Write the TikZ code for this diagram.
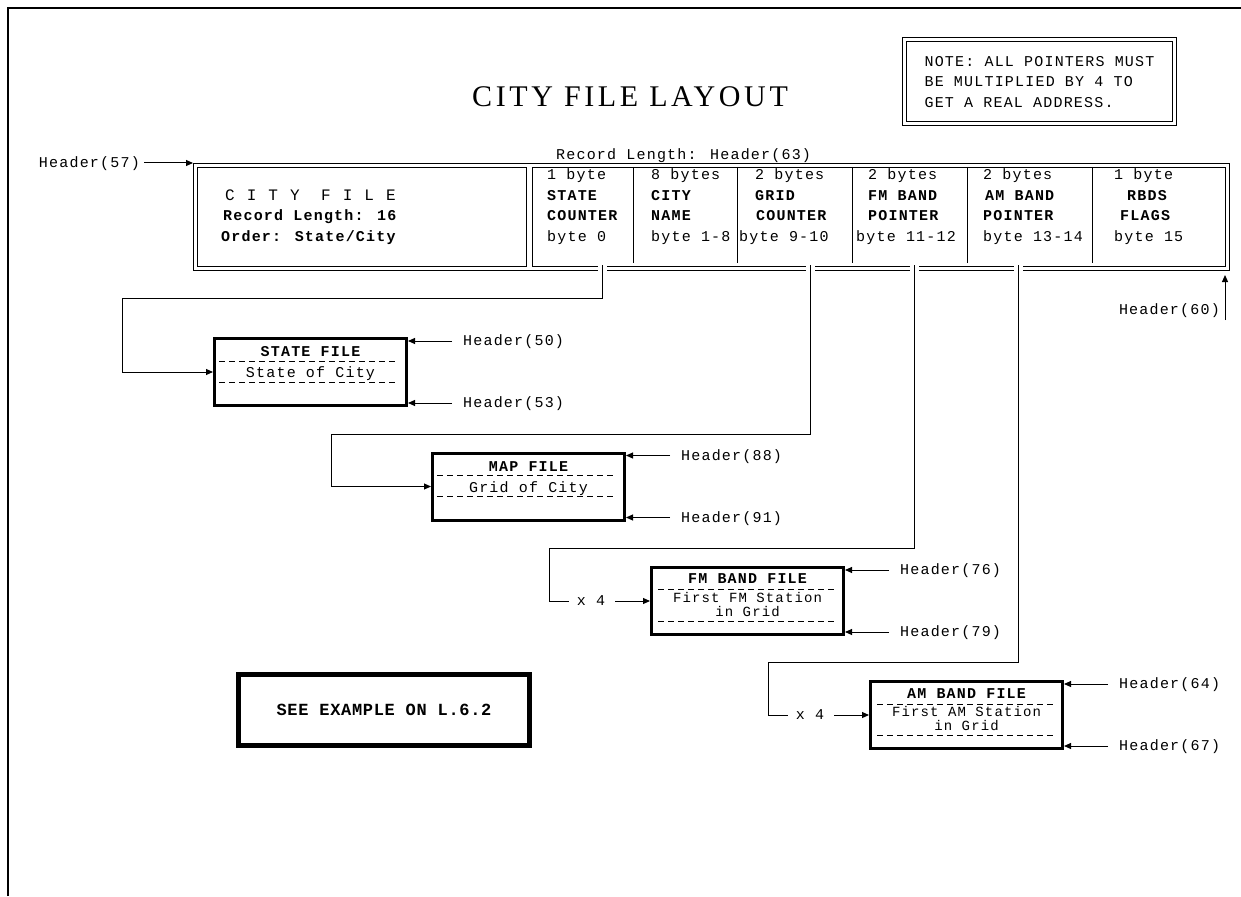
\documentclass[tikz,border=0pt]{standalone}
\usepackage{fontspec}
\usetikzlibrary{arrows.meta, positioning, calc}
\newfontfamily\pixfont[LetterSpace=8]{Liberation Mono}
\newfontfamily\widefont[LetterSpace=75]{Liberation Mono}
\newfontfamily\seefont[LetterSpace=4]{Liberation Mono}
\newfontfamily\titlefont[LetterSpace=12]{Liberation Serif}
\tikzset{
  lbl/.style={
    inner sep=0pt, text height=9.3pt, text depth=0pt,
    font=\pixfont\fontsize{15}{15}\selectfont
  },
  lblb/.style={
    lbl, font=\pixfont\bfseries\fontsize{15}{15}\selectfont
  },
  twoline/.style={
    inner sep=0pt, align=center, font=\pixfont\fontsize{14}{14}\selectfont
  },
  filebox/.style={
    draw, line width=3pt, minimum width=192pt, minimum height=67pt, inner sep=0pt
  },
  cell/.style={
    draw, line width=1pt, inner sep=0pt
  },
  tip/.style={
    -{Triangle[length=7pt, width=6pt]}, line width=1pt
  },
  link/.style={line width=1pt},
  dashline/.style={line width=1pt, dash pattern=on 6pt off 4pt},
  cutout/.style={white, line width=9pt}
}

\begin{document}
\begin{tikzpicture}[x=1pt, y=-1pt]
  \useasboundingbox (0,0) rectangle (1241,896);
  % Frame
  \draw[line width=1.8pt] (8,896) -- (8,8) -- (1241,8);

  % Title and note
  \node[font=\titlefont\fontsize{30}{30}\selectfont, inner sep=0pt] (title) at (630,97) {CITY FILE LAYOUT};
  \node[draw, double, double distance=3pt, line width=1pt, minimum width=270pt, minimum height=84pt,
        align=left, font=\pixfont\fontsize{15}{20.5}\selectfont] (note) at (1039.5,82)
    {NOTE: ALL POINTERS MUST\\BE MULTIPLIED BY 4 TO\\GET A REAL ADDRESS.};

  % Record table
  \node[cell, minimum width=1036pt, minimum height=107pt] (tbl) at (711.5,217) {};
  \node[cell, minimum width=329pt, minimum height=99pt] (city) at (362,217) {};
  \node[cell, minimum width=693pt, minimum height=99pt] (flds) at (879,217) {};
  \foreach \x in {633,737,852,967,1092}
    \draw[link] (\x,167) -- (\x,263);

  \node[lbl, anchor=west] (recl) at (556,155) {Record Length: Header(63)};
  \node[lbl, anchor=east] (h57) at (140,163) {Header(57)};
  \draw[tip] (h57.east) ++(4,0) -- (tbl.north west);

  % City cell
  \node[lbl, anchor=west, font=\widefont\fontsize{16}{16}\selectfont] (cityt) at (225,196) {CITY FILE};
  \node[lblb, anchor=west] (recl16) at (223,216) {Record Length: 16};
  \node[lblb, anchor=west] (order) at (221,237) {Order: State/City};

  % Fields
  \foreach \x/\y/\txt in {547/175/1 byte, 547/237/byte 0, 651/175/8 bytes, 651/237/byte 1-8,
      755/175/2 bytes, 739/237/byte 9-10, 868/175/2 bytes, 856/237/byte 11-12,
      983/175/2 bytes, 983/237/byte 13-14, 1114/175/1 byte, 1114/237/byte 15}
    \node[lbl, anchor=west] (t-\x-\y) at (\x,\y) {\txt};
  \foreach \x/\y/\txt in {547/196/STATE, 547/216/COUNTER, 651/196/CITY, 651/216/NAME,
      755/196/GRID, 756/216/COUNTER, 868/196/FM BAND, 868/216/POINTER,
      985/196/AM BAND, 983/216/POINTER, 1127/196/RBDS, 1120/216/FLAGS}
    \node[lblb, anchor=west] (b-\x-\y) at (\x,\y) {\txt};

  \node[lbl, anchor=east] (h60) at (1220,310) {Header(60)};
  \draw[tip] (h60.east) ++(5,10) -- ($(tbl.south east)+(-5,4)$);

  % File boxes
  \node[filebox] (sf) at (310.5,372) {};
  \node[filebox] (mf) at (528.5,486.5) {};
  \node[filebox] (fm) at (747.5,601) {};
  \node[filebox] (af) at (966.5,715) {};

  \node[lblb] (sft) at ($(sf)+(0,-20)$) {STATE FILE};
  \node[lbl] (sfc) at ($(sf)+(0,1)$) {State of City};
  \draw[dashline] ($(sf.west)+(6,-11)$) -- ($(sf.east)+(-10,-11)$);
  \draw[dashline] ($(sf.west)+(6,10)$) -- ($(sf.east)+(-10,10)$);

  \node[lblb] (mft) at ($(mf)+(0,-20)$) {MAP FILE};
  \node[lbl] (mfc) at ($(mf)+(0,1)$) {Grid of City};
  \draw[dashline] ($(mf.west)+(6,-11)$) -- ($(mf.east)+(-10,-11)$);
  \draw[dashline] ($(mf.west)+(6,10)$) -- ($(mf.east)+(-10,10)$);

  \node[lblb] (fmt) at ($(fm)+(0,-22)$) {FM BAND FILE};
  \node[twoline] (fmc) at ($(fm)+(0,4)$) {First FM Station\\in Grid};
  \draw[dashline] ($(fm.west)+(8,-12)$) -- ($(fm.east)+(-10,-12)$);
  \draw[dashline] ($(fm.west)+(8,20)$) -- ($(fm.east)+(-10,20)$);

  \node[lblb] (aft) at ($(af)+(0,-21)$) {AM BAND FILE};
  \node[twoline] (afc) at ($(af)+(0,4)$) {First AM Station\\in Grid};
  \draw[dashline] ($(af.west)+(8,-11)$) -- ($(af.east)+(-10,-11)$);
  \draw[dashline] ($(af.west)+(8,20)$) -- ($(af.east)+(-10,20)$);

  % Header arrows
  \foreach \nm/\a/\b in {sf/50/53, mf/88/91, fm/76/79, af/64/67} {
    \node[lbl, anchor=west] (\nm-ht) at ($(\nm.north east)+(55,4)$) {Header(\a)};
    \node[lbl, anchor=west] (\nm-hb) at ($(\nm.south east)+(55,-4)$) {Header(\b)};
    \draw[tip] (\nm-ht.west) ++(-11,0) -- (\nm.east |- \nm-ht.west);
    \draw[tip] (\nm-hb.west) ++(-11,0) -- (\nm.east |- \nm-hb.west);
  }

  % Pointers
  \foreach \x/\p in {602/p1, 810/p2, 914/p3, 1018/p4}
    \coordinate (\p) at (\x,265);
  \foreach \p in {p1,p2,p3,p4}
    \draw[cutout] (\p) -- ++(0,9);
  \draw[tip] (p1) |- (122,298) |- (sf.west);
  \draw[tip] (p2) |- (331,434) |- (mf.west);
  \node[lbl] (x4f) at (591,601) {x 4};
  \node[lbl] (x4a) at (810,715) {x 4};
  \draw[link] (p3) |- (549,548) |- ($(x4f.west)+(-8,0)$);
  \draw[tip] ($(x4f.east)+(10,0)$) -- (fm.west);
  \draw[link] (p4) |- (768,662) |- ($(x4a.west)+(-8,0)$);
  \draw[tip] ($(x4a.east)+(10,0)$) -- (af.west);

  % Example box
  \node[draw, line width=5pt, minimum width=291pt, minimum height=71pt,
        font=\seefont\bfseries\fontsize{17}{17}\selectfont] (see) at (384,710) {SEE EXAMPLE ON L.6.2};
\end{tikzpicture}
\end{document}
